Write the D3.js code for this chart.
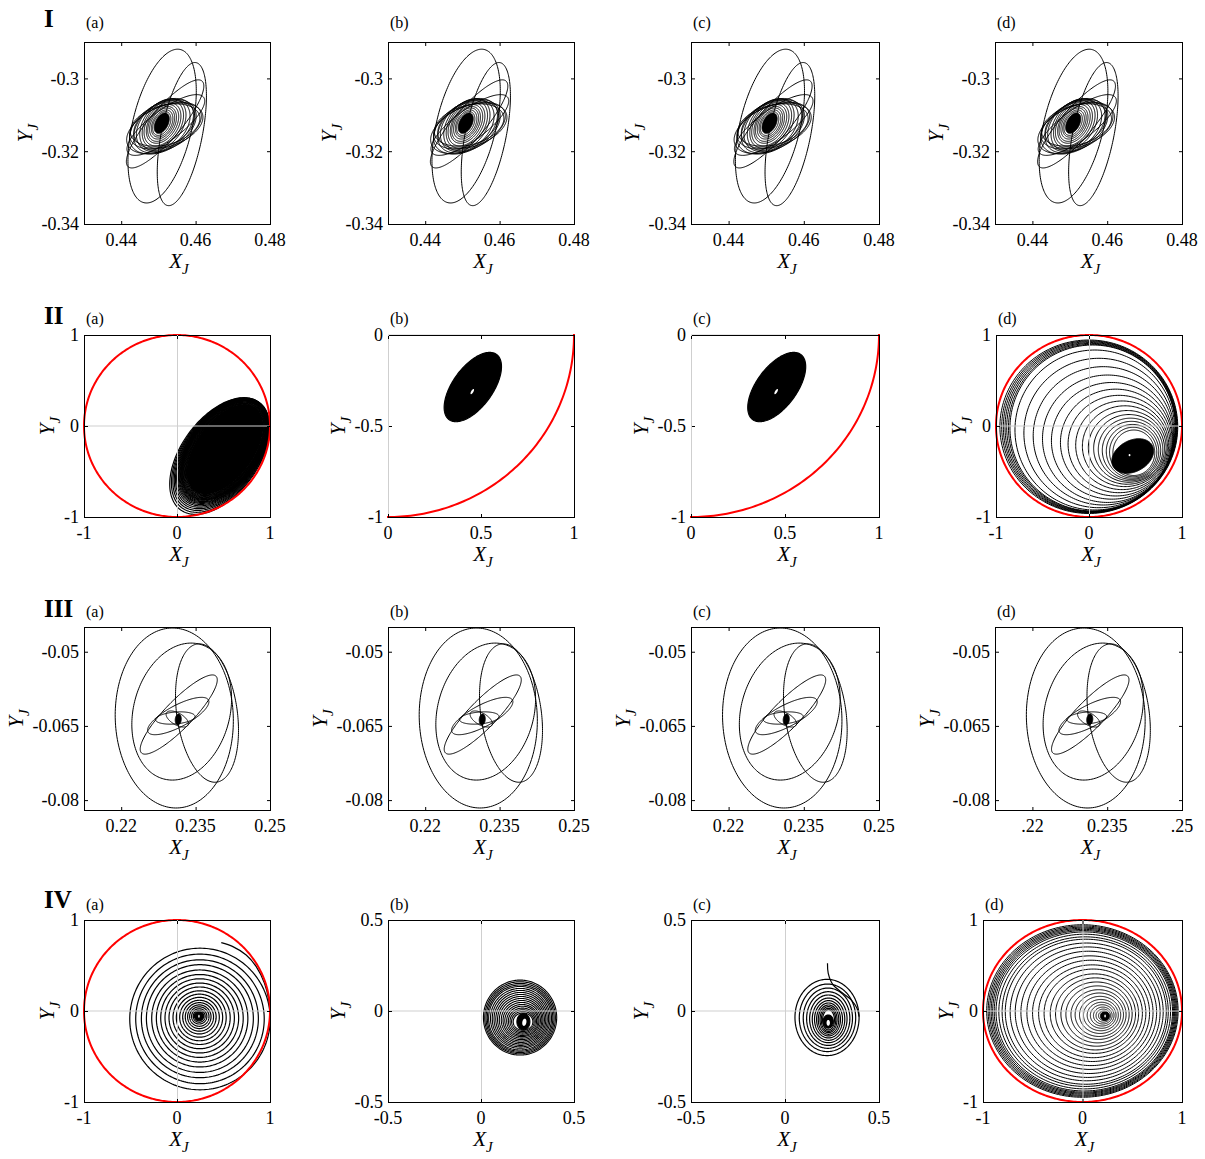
<!DOCTYPE html>
<html>
<head>
<meta charset="utf-8">
<script src="https://cdn.jsdelivr.net/npm/d3@7/dist/d3.min.js"></script>
<style>
  body { margin: 0; background: #fff; }
  svg text { font-family: "Liberation Serif", "Times New Roman", Times, serif; fill: #000; }
</style>
</head>
<body>
<svg id="fig" width="1205" height="1159" font-family="Liberation Serif, Times New Roman, serif"></svg>
<script>
// ---------------------------------------------------------------
// Joint trajectories (X_J, Y_J) for four cases I-IV, methods (a)-(d).
// Each loop of a trajectory is an ellipse: [cx, cy, a, b, tiltDeg]
// ---------------------------------------------------------------
const rowNames = ["I", "II", "III", "IV"];
const panelTags = ["(a)", "(b)", "(c)", "(d)"];

// axis ranges and ticks
const xDomI = [0.43, 0.48], yDomI = [-0.34, -0.29];
const xTicksI = [0.44, 0.46, 0.48], xTextI = ["0.44", "0.46", "0.48"];
const yTicksI = [-0.34, -0.32, -0.30], yTextI = ["-0.34", "-0.32", "-0.3"];

const unitDom = [-1, 1], unitTicks = [-1, 0, 1], unitText = ["-1", "0", "1"];
const quadXDom = [0, 1], quadYDom = [-1, 0];
const quadXTicks = [0, 0.5, 1], quadXText = ["0", "0.5", "1"];
const quadYTicks = [-1, -0.5, 0], quadYText = ["-1", "-0.5", "0"];

const xDomIII = [0.2125, 0.25], yDomIII = [-0.082, -0.045];
const xTicksIII = [0.22, 0.235, 0.25], xTextIII = ["0.22", "0.235", "0.25"], xTextIIId = [".22", "0.235", ".25"];
const yTicksIII = [-0.08, -0.065, -0.05], yTextIII = ["-0.08", "-0.065", "-0.05"];

const halfDom = [-0.5, 0.5], halfTicks = [-0.5, 0, 0.5], halfText = ["-0.5", "0", "0.5"];

const wallRadius = 1;   // workspace boundary circle

// case I
const loopsI = [
  [0.4510, -0.3131, 0.0216, 0.0080, 77],
  [0.4563, -0.3153, 0.0200, 0.0055, 79],
  [0.4518, -0.3125, 0.0154, 0.0042, 50],
  [0.4520, -0.3128, 0.0127, 0.0042, 37],
  [0.4515, -0.3136, 0.0108, 0.0058, 26],
  [0.4521, -0.3131, 0.0103, 0.0056, 20],
  [0.4512, -0.3133, 0.0099, 0.0062, 33],
  [0.4518, -0.3128, 0.0096, 0.0054, 16],
  [0.4514, -0.3130, 0.0092, 0.0060, 40],
  [0.4516, -0.3127, 0.0088, 0.0057, 28],
  [0.4513, -0.3129, 0.0084, 0.0058, 45],
  [0.4512, -0.3127, 0.0079, 0.0052, 55],
  [0.4512, -0.3126, 0.0072, 0.0047, 57],
  [0.4511, -0.3126, 0.0065, 0.0042, 58],
  [0.4511, -0.3125, 0.0058, 0.0037, 59],
  [0.4510, -0.3125, 0.0052, 0.0033, 60],
  [0.4510, -0.3124, 0.0046, 0.0029, 61],
  [0.4510, -0.3124, 0.0040, 0.0025, 62],
  [0.4509, -0.3124, 0.0035, 0.0021, 63]
];
const coreI = [0.4509, -0.3123, 0.0030, 0.0017, 64];

// case II
const loopsIIa = [
  [0.460, -0.330, 0.726, 0.416, 55],
  [0.467, -0.320, 0.712, 0.407, 55],
  [0.473, -0.311, 0.699, 0.399, 55],
  [0.479, -0.303, 0.687, 0.392, 55],
  [0.484, -0.296, 0.676, 0.386, 55],
  [0.489, -0.289, 0.666, 0.380, 55],
  [0.493, -0.283, 0.657, 0.375, 55],
  [0.496, -0.278, 0.649, 0.370, 55],
  [0.499, -0.274, 0.642, 0.366, 55],
  [0.502, -0.271, 0.636, 0.362, 55],
  [0.504, -0.267, 0.630, 0.358, 55],
  [0.506, -0.264, 0.624, 0.355, 55],
  [0.508, -0.262, 0.619, 0.352, 55],
  [0.509, -0.260, 0.615, 0.349, 55],
  [0.510, -0.259, 0.609, 0.345, 55],
  [0.511, -0.258, 0.602, 0.340, 55],
  [0.512, -0.257, 0.595, 0.334, 55],
  [0.513, -0.256, 0.588, 0.328, 55],
  [0.514, -0.256, 0.580, 0.322, 55],
  [0.515, -0.255, 0.572, 0.317, 55]
];
const coreIIa = [0.515, -0.255, 0.565, 0.312, 55];

const blobIIbc = [0.456, -0.286, 0.220, 0.108, 55];
const holeIIbc = [0.453, -0.311, 0.016, 0.006, 60];

const loopsIId = [
  [-0.002, -0.008, 0.956, 0.953, 0],
  [0.005, -0.010, 0.944, 0.946, 0],
  [0.012, -0.012, 0.933, 0.939, 0],
  [0.019, -0.015, 0.922, 0.932, 0],
  [0.026, -0.017, 0.911, 0.925, 0],
  [0.033, -0.020, 0.899, 0.918, 0],
  [0.040, -0.022, 0.890, 0.912, 0],
  [0.063, -0.044, 0.859, 0.879, 0],
  [0.107, -0.077, 0.807, 0.821, 0],
  [0.154, -0.108, 0.754, 0.760, 0],
  [0.200, -0.140, 0.700, 0.700, 0],
  [0.245, -0.163, 0.649, 0.641, 0],
  [0.288, -0.182, 0.595, 0.587, 0],
  [0.323, -0.198, 0.548, 0.535, 0],
  [0.357, -0.212, 0.500, 0.487, 0],
  [0.386, -0.222, 0.457, 0.444, 0],
  [0.411, -0.235, 0.418, 0.405, 0],
  [0.431, -0.246, 0.381, 0.372, 0],
  [0.447, -0.258, 0.347, 0.344, 0],
  [0.457, -0.268, 0.314, 0.319, 0],
  [0.468, -0.278, 0.282, 0.295, 0],
  [0.475, -0.286, 0.254, 0.272, 0],
  [0.482, -0.294, 0.225, 0.250, 0]
];
const coreIId = [0.470, -0.330, 0.240, 0.170, 30];
const holeIId = [0.436, -0.320, 0.010, 0.012, 0];

// case III
const loopsIII = [
  [0.2307, -0.0634, 0.0182, 0.0119, 92],
  [0.2322, -0.0621, 0.0141, 0.0097, 75],
  [0.2373, -0.0624, 0.0141, 0.0061, 98],
  [0.2316, -0.0627, 0.0108, 0.0028, 46],
  [0.2315, -0.0630, 0.0069, 0.0022, 28],
  [0.2309, -0.0634, 0.0040, 0.0012, 5],
  [0.2313, -0.0636, 0.0025, 0.0012, -30]
];
const coreIII = [0.2315, -0.0637, 0.0011, 0.0006, 85];

// case IV
const loopsIVa = [
  [0.247, -0.088, 0.755, 0.778, 0],
  [0.247, -0.087, 0.691, 0.712, 0],
  [0.246, -0.085, 0.629, 0.648, 0],
  [0.246, -0.083, 0.575, 0.592, 0],
  [0.245, -0.082, 0.517, 0.533, 0],
  [0.245, -0.080, 0.467, 0.481, 0],
  [0.244, -0.078, 0.419, 0.432, 0],
  [0.244, -0.077, 0.373, 0.384, 0],
  [0.243, -0.075, 0.329, 0.339, 0],
  [0.243, -0.073, 0.286, 0.295, 0],
  [0.242, -0.071, 0.249, 0.256, 0],
  [0.242, -0.069, 0.213, 0.219, 0],
  [0.241, -0.067, 0.180, 0.185, 0],
  [0.241, -0.065, 0.152, 0.157, 0],
  [0.240, -0.063, 0.126, 0.130, 0],
  [0.240, -0.061, 0.104, 0.107, 0],
  [0.239, -0.059, 0.082, 0.084, 0],
  [0.239, -0.058, 0.064, 0.066, 0]
];
const coreIVa = [0.237, -0.056, 0.050, 0.052, 0];
const holeIVa = [0.236, -0.058, 0.008, 0.016, 0];
const tailIVaX = [0.476, 0.601, 0.744, 0.852, 0.941, 0.987, 1.000];
const tailIVaY = [0.751, 0.707, 0.615, 0.487, 0.304, 0.121, -0.010];

const loopsIVb = [
  [0.210, -0.036, 0.197, 0.206, 0],
  [0.210, -0.037, 0.190, 0.198, 0],
  [0.210, -0.038, 0.183, 0.190, 0],
  [0.210, -0.039, 0.176, 0.182, 0],
  [0.210, -0.0395, 0.169, 0.1745, 0],
  [0.211, -0.0405, 0.160, 0.1645, 0],
  [0.212, -0.042, 0.1515, 0.155, 0],
  [0.213, -0.0435, 0.143, 0.1455, 0],
  [0.214, -0.045, 0.1345, 0.136, 0],
  [0.215, -0.0465, 0.126, 0.1265, 0],
  [0.216, -0.048, 0.1175, 0.117, 0],
  [0.218, -0.0495, 0.109, 0.1075, 0],
  [0.219, -0.051, 0.1005, 0.098, 0],
  [0.220, -0.0525, 0.092, 0.0885, 0],
  [0.222, -0.054, 0.084, 0.0805, 0],
  [0.223, -0.0555, 0.076, 0.0715, 0],
  [0.224, -0.0565, 0.068, 0.0635, 0],
  [0.225, -0.0575, 0.0605, 0.0555, 0],
  [0.226, -0.0585, 0.053, 0.0475, 0]
];
const coreIVb = [0.228, -0.059, 0.035, 0.045, 0];
const holeIVb = [0.233, -0.062, 0.020, 0.011, 80];

const loopsIVc = [
  [0.2235, -0.0355, 0.1705, 0.2095, 0],
  [0.226, -0.0375, 0.150, 0.1855, 0],
  [0.228, -0.0395, 0.131, 0.1655, 0],
  [0.230, -0.0415, 0.115, 0.1475, 0],
  [0.2305, -0.043, 0.0995, 0.131, 0],
  [0.2315, -0.045, 0.0865, 0.116, 0],
  [0.2315, -0.0455, 0.0745, 0.1025, 0],
  [0.2315, -0.0465, 0.0635, 0.0905, 0],
  [0.2315, -0.0475, 0.0545, 0.0805, 0],
  [0.2315, -0.0475, 0.0455, 0.0715, 0],
  [0.2315, -0.0485, 0.0385, 0.0635, 0],
  [0.2315, -0.0485, 0.0315, 0.0555, 0]
];
const coreIVc = [0.230, -0.058, 0.027, 0.036, 0];
const holeIVc = [0.230, -0.065, 0.009, 0.016, 0];
const tailIVcX = [0.226, 0.230, 0.256, 0.309, 0.353, 0.383, 0.394];
const tailIVcY = [0.262, 0.207, 0.143, 0.097, 0.060, 0.015, -0.031];

const loopsIVd = [
  [-0.001, 0.000, 0.962, 0.948, 0],
  [0.002, -0.001, 0.950, 0.936, 0],
  [0.005, -0.002, 0.938, 0.924, 0],
  [0.008, -0.002, 0.926, 0.912, 0],
  [0.011, -0.003, 0.914, 0.900, 0],
  [0.014, -0.004, 0.901, 0.888, 0],
  [0.018, -0.005, 0.887, 0.874, 0],
  [0.022, -0.006, 0.863, 0.850, 0],
  [0.027, -0.007, 0.835, 0.822, 0],
  [0.033, -0.008, 0.809, 0.797, 0],
  [0.042, -0.010, 0.769, 0.757, 0],
  [0.052, -0.013, 0.728, 0.717, 0],
  [0.063, -0.015, 0.682, 0.672, 0],
  [0.075, -0.018, 0.634, 0.624, 0],
  [0.086, -0.021, 0.588, 0.579, 0],
  [0.098, -0.024, 0.539, 0.531, 0],
  [0.108, -0.026, 0.494, 0.487, 0],
  [0.120, -0.029, 0.444, 0.437, 0],
  [0.131, -0.032, 0.402, 0.396, 0],
  [0.141, -0.034, 0.358, 0.353, 0],
  [0.151, -0.037, 0.318, 0.313, 0],
  [0.161, -0.039, 0.277, 0.273, 0],
  [0.169, -0.041, 0.243, 0.239, 0],
  [0.177, -0.043, 0.207, 0.204, 0],
  [0.185, -0.045, 0.175, 0.172, 0],
  [0.192, -0.047, 0.145, 0.143, 0],
  [0.198, -0.048, 0.119, 0.117, 0],
  [0.204, -0.050, 0.094, 0.093, 0],
  [0.209, -0.051, 0.073, 0.072, 0],
  [0.214, -0.052, 0.053, 0.052, 0]
];
const coreIVd = [0.225, -0.055, 0.045, 0.050, 0];
const holeIVd = [0.227, -0.055, 0.008, 0.016, 0];

// ---------------------------------------------------------------
// panel definitions
// ---------------------------------------------------------------
const axesI = { xDom: xDomI, yDom: yDomI, xT: xTicksI, xL: xTextI, yT: yTicksI, yL: yTextI, lw: 1 };
const axesIII = { xDom: xDomIII, yDom: yDomIII, xT: xTicksIII, xL: xTextIII, yT: yTicksIII, yL: yTextIII, lw: 1 };
const axesUnit = { xDom: unitDom, yDom: unitDom, xT: unitTicks, xL: unitText, yT: unitTicks, yL: unitText, grid: true, wall: true, lw: 1.2 };
const axesQuad = { xDom: quadXDom, yDom: quadYDom, xT: quadXTicks, xL: quadXText, yT: quadYTicks, yL: quadYText, grid: true, wall: true, lw: 1.2 };
const axesHalf = { xDom: halfDom, yDom: halfDom, xT: halfTicks, xL: halfText, yT: halfTicks, yL: halfText, grid: true, wall: false, lw: 1.2 };

const caseI = { ...axesI, loops: loopsI, fills: [coreI] };
const caseIII = { ...axesIII, loops: loopsIII, fills: [coreIII] };
const caseIIbc = { ...axesQuad, loops: [], fills: [blobIIbc], holes: [holeIIbc] };

const specs = [
  [caseI, caseI, caseI, caseI],
  [
    { ...axesUnit, loops: loopsIIa, fills: [coreIIa] },
    caseIIbc,
    caseIIbc,
    { ...axesUnit, lw: 1, loops: loopsIId, fills: [coreIId], holes: [holeIId] }
  ],
  [caseIII, caseIII, caseIII, { ...caseIII, xL: xTextIIId }],
  [
    { ...axesUnit, loops: loopsIVa, fills: [coreIVa], holes: [holeIVa], tail: [tailIVaX, tailIVaY] },
    { ...axesHalf, lw: 1.1, loops: loopsIVb, fills: [coreIVb], holes: [holeIVb] },
    { ...axesHalf, loops: loopsIVc, fills: [coreIVc], holes: [holeIVc], tail: [tailIVcX, tailIVcY] },
    { ...axesUnit, lw: 1, loops: loopsIVd, fills: [coreIVd], holes: [holeIVd] }
  ]
];

// ---------------------------------------------------------------
// layout (pixels)
// ---------------------------------------------------------------
const boxTop = [42, 335, 627, 920];
const boxBottom = [224, 517, 810, 1102];
const boxLeft = [[84, 388, 691, 995], [84, 388, 691, 996], [84, 388, 691, 995], [84, 388, 691, 983]];
const boxRight = [270, 574, 879, 1182];
const tagGap = [14, 11, 10, 10];
const rowLabelBase = [27, 324, 617, 908];
const serif = "'Liberation Serif', 'Times New Roman', Times, serif";

const svg = d3.select("#fig");
const defs = svg.append("defs");

function ringPoints(e) {
  const [cx, cy, a, b, deg] = e;
  const th = deg * Math.PI / 180, c = Math.cos(th), s = Math.sin(th);
  return d3.range(200).map(k => {
    const t = 2 * Math.PI * k / 200, u = a * Math.cos(t), v = b * Math.sin(t);
    return [cx + u * c - v * s, cy + u * s + v * c];
  });
}

function addLabel(parent, main, sub, subSize, subDy) {
  parent.append("tspan").text(main);
  parent.append("tspan").attr("dy", subDy).style("font-size", subSize + "px").text(sub);
}

let clipId = 0;
specs.forEach((rowSpecs, r) => {
  // row numeral
  svg.append("text").attr("x", 44).attr("y", rowLabelBase[r]).style("font-family", serif)
    .style("font-size", "25px").style("font-weight", "bold").text(rowNames[r]);

  rowSpecs.forEach((p, c) => {
    const L = boxLeft[r][c], R = boxRight[c], T = boxTop[r], B = boxBottom[r];
    const x = d3.scaleLinear().domain(p.xDom).range([L, R]);
    const y = d3.scaleLinear().domain(p.yDom).range([B, T]);
    const g = svg.append("g").style("font-family", serif);

    const id = "clip" + (clipId++);
    defs.append("clipPath").attr("id", id).append("rect")
      .attr("x", L - 1).attr("y", T - 1).attr("width", R - L + 2).attr("height", B - T + 2);
    const plot = g.append("g").attr("clip-path", `url(#${id})`);

    const closed = d3.line().x(d => x(d[0])).y(d => y(d[1])).curve(d3.curveLinearClosed);
    const open = d3.line().x(d => x(d[0])).y(d => y(d[1])).curve(d3.curveCatmullRom);

    (p.loops || []).forEach(e => plot.append("path").attr("d", closed(ringPoints(e)))
      .attr("fill", "none").attr("stroke", "#000").attr("stroke-width", p.lw));
    (p.fills || []).forEach(e => plot.append("path").attr("d", closed(ringPoints(e)))
      .attr("fill", "#000").attr("stroke", "#000").attr("stroke-width", p.lw));
    (p.holes || []).forEach(e => plot.append("path").attr("d", closed(ringPoints(e)))
      .attr("fill", "#fff").attr("stroke", "none"));
    if (p.tail) {
      const pts = p.tail[0].map((v, i) => [v, p.tail[1][i]]);
      plot.append("path").attr("d", open(pts)).attr("fill", "none")
        .attr("stroke", "#000").attr("stroke-width", p.lw);
    }

    // zero grid (horizontal)
    if (p.grid && p.yDom[0] < 0 && p.yDom[1] >= 0) {
      plot.append("line").attr("x1", x(Math.max(p.xDom[0], -1))).attr("x2", x(Math.min(p.xDom[1], 1)))
        .attr("y1", y(0)).attr("y2", y(0)).attr("stroke", "#cfcfcf").attr("stroke-width", 1);
    }
    // boundary circle
    if (p.wall) {
      const circ = d3.range(360).map(k => [wallRadius * Math.cos(k * Math.PI / 180), wallRadius * Math.sin(k * Math.PI / 180)]);
      plot.append("path").attr("d", closed(circ)).attr("fill", "none")
        .attr("stroke", "#ff0000").attr("stroke-width", 2);
    }

    // frame
    g.append("rect").attr("x", L + 0.5).attr("y", T + 0.5).attr("width", R - L).attr("height", B - T)
      .attr("fill", "none").attr("stroke", "#000").attr("stroke-width", 1);

    // zero grid (vertical)
    if (p.grid && p.xDom[0] <= 0 && p.xDom[1] > 0) {
      g.append("line").attr("x1", x(0) + 0.5).attr("x2", x(0) + 0.5)
        .attr("y1", y(Math.min(p.yDom[1], 1))).attr("y2", y(Math.max(p.yDom[0], -1)))
        .attr("stroke", "#cfcfcf").attr("stroke-width", 1);
    }

    // ticks
    const tl = 3;
    p.xT.forEach(v => {
      const px = x(v) + 0.5;
      g.append("line").attr("x1", px).attr("x2", px).attr("y1", B).attr("y2", B - tl).attr("stroke", "#000");
      g.append("line").attr("x1", px).attr("x2", px).attr("y1", T + 1).attr("y2", T + 1 + tl).attr("stroke", "#000");
    });
    p.yT.forEach(v => {
      const py = y(v) + 0.5;
      g.append("line").attr("x1", L + 1).attr("x2", L + 1 + tl).attr("y1", py).attr("y2", py).attr("stroke", "#000");
      g.append("line").attr("x1", R).attr("x2", R - tl).attr("y1", py).attr("y2", py).attr("stroke", "#000");
    });

    // tick labels
    p.xT.forEach((v, i) => {
      g.append("text").attr("x", x(v)).attr("y", B + 22).attr("text-anchor", "middle")
        .style("font-size", "18px").text(p.xL[i]);
    });
    let maxW = 0;
    p.yT.forEach((v, i) => {
      const t = g.append("text").attr("x", L - 5).attr("y", y(v)).attr("dy", "0.35em")
        .attr("text-anchor", "end").style("font-size", "18px").text(p.yL[i]);
      maxW = Math.max(maxW, t.node().getComputedTextLength());
    });

    // axis titles
    const xt = g.append("text").attr("x", (L + R) / 2 + 2).attr("y", B + 44).attr("text-anchor", "middle")
      .style("font-size", "21px").style("font-style", "italic");
    addLabel(xt, "X", "J", 15, 6);
    const yt = g.append("text").attr("transform", `translate(${L - 5 - maxW - 10},${(T + B) / 2}) rotate(-90)`)
      .attr("text-anchor", "middle").style("font-size", "21px").style("font-style", "italic");
    addLabel(yt, "Y", "J", 15, 6);

    // panel tag
    g.append("text").attr("x", L + 2).attr("y", T - tagGap[r]).style("font-size", "16px").text(panelTags[c]);
  });
});
</script>
</body>
</html>
